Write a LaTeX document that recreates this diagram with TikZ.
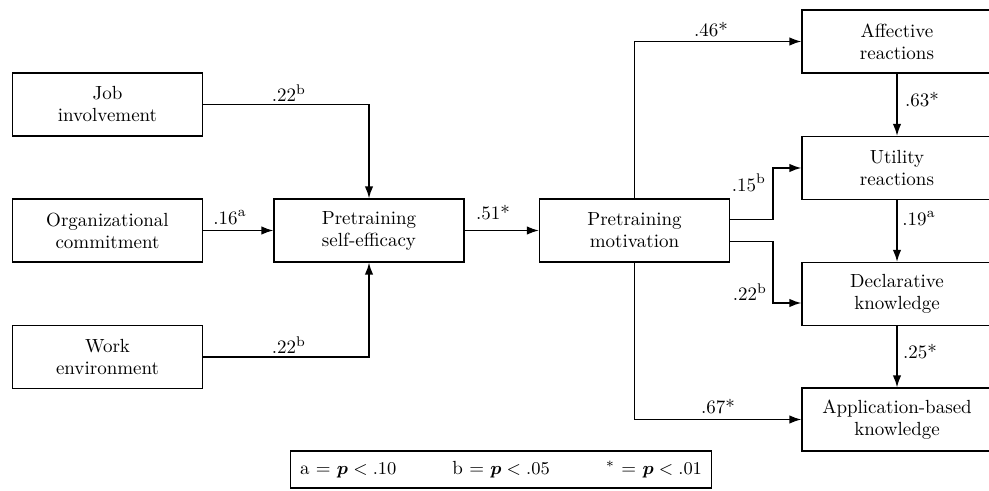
\documentclass[tikz,border=0pt]{standalone}
\usepackage{amsmath,amssymb}
\usepackage{bm}
\usetikzlibrary{arrows.meta, positioning, calc}

\begin{document}
\begin{tikzpicture}[x=0.5pt, y=-0.5pt,
  box/.style={draw, line width=0.6pt, minimum width=95pt, minimum height=31.5pt, inner sep=0pt, align=center, font=\fontsize{9.5}{11}\selectfont},
  link/.style={line width=0.75pt, -{Latex[length=6pt,width=4.2pt]}},
  coef/.style={inner sep=1pt, font=\fontsize{9.5}{11}\selectfont}]

  % Page frame
  \useasboundingbox (0,0) rectangle (989,491);

  % Antecedents
  \foreach \nm/\yy/\txt in {job/104.5/{Job\\involvement}, org/230.5/{Organizational\\commitment}, work/357/{Work\\environment}} {
    \node[box] (\nm) at (107.5,\yy) {\txt};
  }

  % Pretraining variables
  \node[box] (selfeff) at (369,230.5) {Pretraining\\self-efficacy};
  \node[box] (motiv) at (634.5,230.5) {Pretraining\\motivation};

  % Outcomes
  \foreach \nm/\yy/\txt in {affect/41.5/{Affective\\reactions}, utility/168/{Utility\\reactions}, declar/294/{Declarative\\knowledge}, applic/419.5/{Application-based\\knowledge}} {
    \node[box] (\nm) at (897,\yy) {\txt};
  }

  % Paths into self-efficacy
  \draw[link] (job.east) -| (selfeff.north);
  \draw[link] (org.east) -- (selfeff.west);
  \draw[link] (work.east) -| (selfeff.south);
  \draw[link] (selfeff.east) -- (motiv.west);

  % Paths from motivation
  \draw[link] (motiv.north) |- (affect.west);
  \draw[link] ([yshift=5.5pt]motiv.east) -- ++(21.5pt,0) |- (utility.west);
  \draw[link] ([yshift=-5.5pt]motiv.east) -- ++(21.5pt,0) |- ([yshift=-4.5pt]declar.west);
  \draw[link] (motiv.south) |- (applic.west);

  % Chain of outcomes
  \draw[link] (affect) -- (utility);
  \draw[link] (utility) -- (declar);
  \draw[link] (declar) -- (applic);

  % Coefficients
  \node[coef] (c-job) at (289,93) {.22$^{\mathrm{b}}$};
  \node[coef] (c-org) at (230,218) {.16$^{\mathrm{a}}$};
  \node[coef] (c-work) at (289,345) {.22$^{\mathrm{b}}$};
  \node[coef] (c-self) at (493,213) {.51*};
  \node[coef] (c-affect) at (711,30) {.46*};
  \node[coef] (c-utility) at (749,183) {.15$^{\mathrm{b}}$};
  \node[coef] (c-declar) at (750,292) {.22$^{\mathrm{b}}$};
  \node[coef] (c-applic) at (718,407) {.67*};
  \node[coef] (c-aff-util) at (922,100) {.63*};
  \node[coef] (c-util-decl) at (919,219) {.19$^{\mathrm{a}}$};
  \node[coef] (c-decl-appl) at (920,352) {.25*};

  % Legend
  \node[draw, line width=0.6pt, minimum width=210.5pt, minimum height=18.5pt, text width=201pt, inner sep=0pt, font=\fontsize{9.5}{11}\selectfont] (legend) at (501,469.5)
    {a = $\bm{p} < .10$\hfill b = $\bm{p} < .05$\hfill $^{*}$ = $\bm{p} < .01$};
\end{tikzpicture}
\end{document}
